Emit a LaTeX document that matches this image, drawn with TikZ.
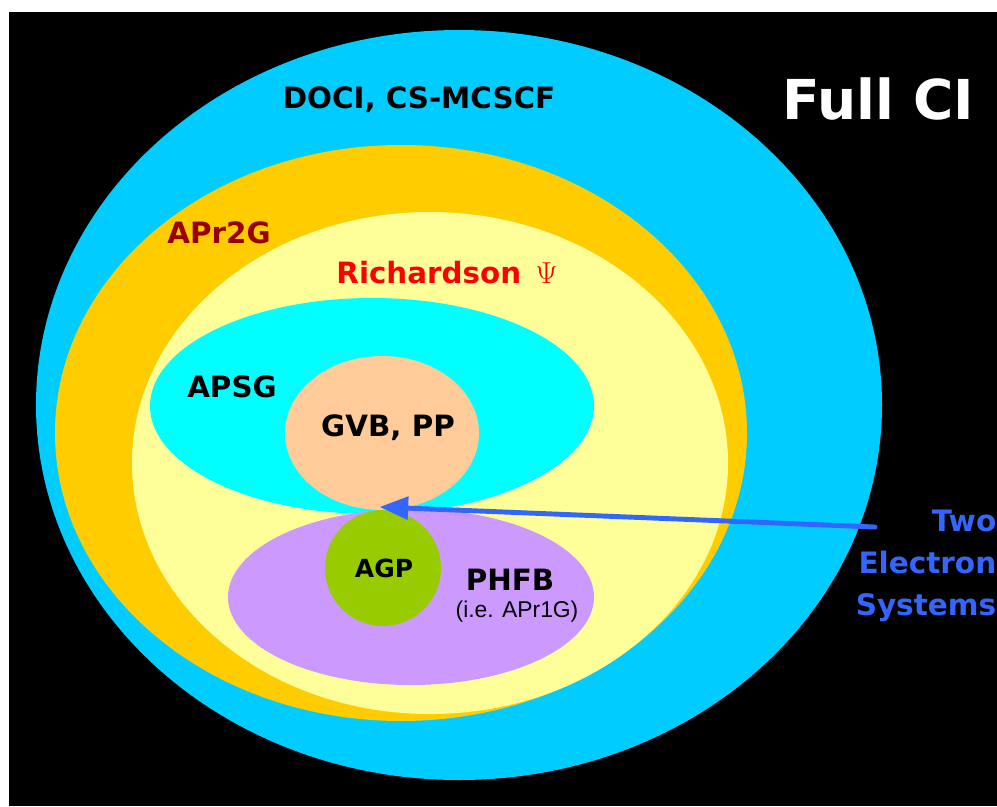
\documentclass[tikz,border=0pt]{standalone}
\usepackage{fontspec}
\setmainfont{Liberation Sans}
\newfontfamily\heavyfont{DejaVu Sans}
\usetikzlibrary{arrows}
\definecolor{qqccff}{rgb}{0.,0.8,1.}
\definecolor{ffccqq}{rgb}{1.,0.8,0.}
\definecolor{ffff99}{rgb}{1.,1.,0.6}
\definecolor{qqffff}{rgb}{0.,1.,1.}
\definecolor{ffcc99}{rgb}{1.,0.8,0.6}
\definecolor{cc99ff}{rgb}{0.8,0.6,1.}
\definecolor{99ccqq}{rgb}{0.6,0.8,0.}
\definecolor{3366ff}{rgb}{0.2,0.4,1.}
\definecolor{99qqqq}{rgb}{0.6,0.,0.}
\definecolor{ffqqqq}{rgb}{1.,0.,0.}
\newcommand{\hv}[2]{\heavyfont\bfseries\fontsize{#1}{#2}\selectfont}
\tikzset{
  lbl/.style={font=\hv{16.7}{20}},
}
\begin{document}
\begin{tikzpicture}[line cap=round,line join=round,>=triangle 45,x=0.02cm,y=-0.02cm]
\useasboundingbox (0,0) rectangle (997,806);
\fill[white] (0,0) rectangle (997,806);
\fill[black] (9,12) rectangle (997,806);
\fill[qqccff] (459,405) ellipse (423 and 375);
\fill[ffccqq] (401,433) ellipse (346 and 288);
\fill[ffff99] (430,463) ellipse (298 and 251);
\fill[qqffff] (372,406) ellipse (222 and 108);
\fill[ffcc99] (382,433) ellipse (97 and 77);
\fill[cc99ff] (411,597) ellipse (183 and 88);
\fill[99ccqq] (383,568) circle (58);
\draw (878,99) node[text=white,font=\hv{31.3}{36}] (fullci) {Full CI};
\draw (419,100) node[lbl] (doci) {DOCI, CS-MCSCF};
\draw (219,233) node[lbl,text=99qqqq] (apr2g) {APr2G};
\draw (447,273) node[lbl,text=ffqqqq] (rich) {Richardson \hspace{2.5pt}$\Psi$};
\draw (232,387) node[lbl] (apsg) {APSG};
\draw (388,428) node[lbl] (gvb) {GVB, PP};
\draw (384,568) node[font=\hv{14.2}{17}] (agp) {AGP};
\draw (510,580) node[lbl] (phfb) {PHFB};
\draw (517,612) node[font=\fontsize{13}{15}\selectfont] (apr1g) {(i.e. APr1G)};
\draw (926,566) node[text=3366ff,align=right,font=\hv{16.8}{24}] (twoel) {Two\\Electron\\Systems};
\coordinate (tail) at (875,527);
\coordinate (touch) at (380,507);
\draw [->,line width=2.8pt,color=3366ff] (tail) -- (touch);
\end{tikzpicture}
\end{document}
